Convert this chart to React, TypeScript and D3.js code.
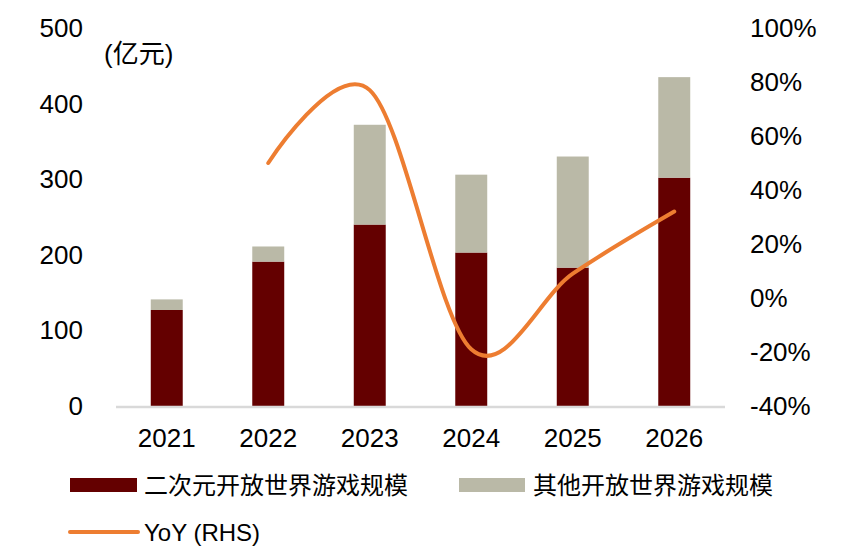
import * as d3 from "d3";

const years = ["2021", "2022", "2023", "2024", "2025", "2026"];
const acgScale = [127, 191, 240, 203, 183, 302];
const otherScale = [14, 20, 132, 103, 147, 133];
const yoyYears = ["2022", "2023", "2024", "2025", "2026"];
const yoyValues = [50, 77, -19, 9, 32];
const leftTicks = [0, 100, 200, 300, 400, 500];
const rightTicks = [-40, -20, 0, 20, 40, 60, 80, 100];

const FONT = "'Liberation Sans', Arial, 'Noto Sans CJK SC', sans-serif";
const DARK = "#640000";
const GRAY = "#BAB9A7";
const ORANGE = "#ED7D31";

const App = () => {
  const width = 844;
  const height = 555;
  const margin = { top: 28, left: 116, right: 725, bottom: 406 };

  const x = d3
    .scaleBand()
    .domain(years)
    .range([margin.left, margin.right])
    .padding(0);
  const barW = x.bandwidth() * 0.315;
  const barX = (d: string) => (x(d) || 0) + (x.bandwidth() - barW) / 2;
  const cx = (d: string) => (x(d) || 0) + x.bandwidth() / 2;

  const yL = d3.scaleLinear().domain([0, 500]).range([margin.bottom, margin.top]);
  const yR = d3.scaleLinear().domain([-40, 100]).range([margin.bottom, margin.top]);

  const line = d3
    .line<number>()
    .x((_, i) => cx(yoyYears[i]))
    .y((d) => yR(d))
    .curve(d3.curveCardinal.tension(0));

  return (
    <div style={{ position: "absolute", left: 0, top: 0 }}>
      <svg width={width} height={height} style={{ display: "block", background: "#fff" }}>
        {/* left axis labels */}
        {leftTicks.map((t) => (
          <text key={t} x={83} y={yL(t)} textAnchor="end" dominantBaseline="central"
            fontFamily={FONT} fontSize={26} fill="#000">{t}</text>
        ))}
        <text x={104} y={54} dominantBaseline="central" fontFamily={FONT} fontSize={26} fill="#000">(亿元)</text>

        {/* right axis labels */}
        {rightTicks.map((t) => (
          <text key={t} x={750} y={yR(t)} textAnchor="start" dominantBaseline="central"
            fontFamily={FONT} fontSize={26} fill="#000">{t}%</text>
        ))}

        {/* bars */}
        {years.map((d, i) => (
          <g key={d}>
            <rect x={barX(d)} width={barW} y={yL(acgScale[i])} height={yL(0) - yL(acgScale[i])} fill={DARK} />
            <rect x={barX(d)} width={barW} y={yL(acgScale[i] + otherScale[i])}
              height={yL(acgScale[i]) - yL(acgScale[i] + otherScale[i])} fill={GRAY} />
          </g>
        ))}

        {/* x axis */}
        <line x1={margin.left} x2={margin.right} y1={margin.bottom + 1} y2={margin.bottom + 1} stroke="#D9D9D9" strokeWidth={2.5} />
        {years.map((d) => (
          <text key={d} x={cx(d)} y={438} textAnchor="middle" dominantBaseline="central"
            fontFamily={FONT} fontSize={26} fill="#000">{d}</text>
        ))}

        {/* yoy line */}
        <path d={line(yoyValues) || ""} fill="none" stroke={ORANGE} strokeWidth={4} strokeLinecap="round" />

        {/* legend */}
        <rect x={70} y={478} width={67} height={14} fill={DARK} />
        <text x={144} y={485} dominantBaseline="central" fontFamily={FONT} fontSize={24} fill="#000">二次元开放世界游戏规模</text>
        <rect x={459} y={478} width={66} height={14} fill={GRAY} />
        <text x={533} y={485} dominantBaseline="central" fontFamily={FONT} fontSize={24} fill="#000">其他开放世界游戏规模</text>
        <line x1={70} x2={138} y1={532} y2={532} stroke={ORANGE} strokeWidth={4} strokeLinecap="round" />
        <text x={144} y={532} dominantBaseline="central" fontFamily={FONT} fontSize={24} fill="#000">YoY (RHS)</text>
      </svg>
    </div>
  );
};

export default App;
